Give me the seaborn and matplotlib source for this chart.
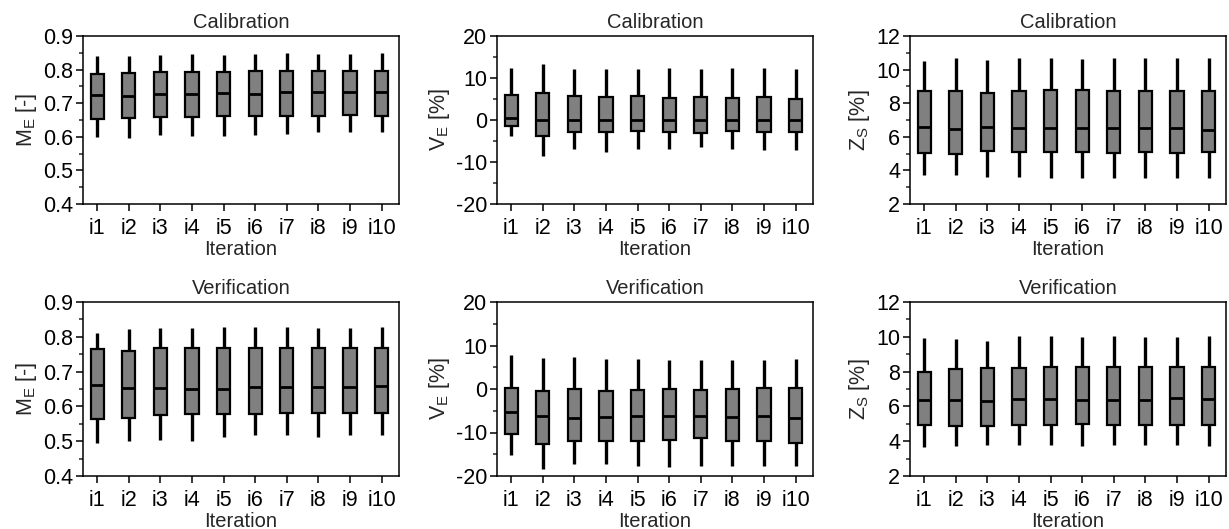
import numpy as np
import pandas as pd
import matplotlib
matplotlib.use("Agg")
import matplotlib.pyplot as plt
from matplotlib.ticker import MultipleLocator
import seaborn as sns

# ===== DATA (whisker low, q1, median, q3, whisker high) =====
iterations = ["i1", "i2", "i3", "i4", "i5", "i6", "i7", "i8", "i9", "i10"]

# Calibration M_E
cal_me_lo = [0.600, 0.597, 0.605, 0.603, 0.603, 0.605, 0.608, 0.613, 0.613, 0.615]
cal_me_q1 = [0.653, 0.655, 0.659, 0.659, 0.662, 0.662, 0.663, 0.662, 0.665, 0.662]
cal_me_md = [0.725, 0.722, 0.727, 0.727, 0.730, 0.728, 0.732, 0.732, 0.732, 0.732]
cal_me_q3 = [0.787, 0.790, 0.793, 0.793, 0.793, 0.795, 0.797, 0.797, 0.795, 0.797]
cal_me_hi = [0.840, 0.840, 0.843, 0.845, 0.843, 0.847, 0.848, 0.845, 0.847, 0.850]

# Calibration V_E
cal_ve_lo = [-3.9, -8.5, -6.9, -7.5, -6.8, -6.8, -6.4, -6.8, -7.2, -7.1]
cal_ve_q1 = [-1.5, -3.7, -2.9, -2.8, -2.7, -2.9, -3.0, -2.7, -2.9, -2.8]
cal_ve_md = [0.5, 0.1, 0.0, 0.0, 0.0, 0.0, 0.0, 0.0, -0.1, 0.0]
cal_ve_q3 = [5.9, 6.5, 5.8, 5.5, 5.6, 5.2, 5.4, 5.3, 5.5, 5.1]
cal_ve_hi = [12.5, 13.3, 12.1, 12.2, 12.2, 12.4, 12.2, 12.5, 12.5, 12.2]

# Calibration Z_S
cal_zs_lo = [3.72, 3.72, 3.62, 3.62, 3.56, 3.56, 3.56, 3.56, 3.56, 3.56]
cal_zs_q1 = [5.06, 4.96, 5.16, 5.10, 5.10, 5.10, 5.06, 5.10, 5.06, 5.10]
cal_zs_md = [6.56, 6.46, 6.58, 6.52, 6.52, 6.52, 6.52, 6.52, 6.54, 6.38]
cal_zs_q3 = [8.71, 8.73, 8.60, 8.75, 8.79, 8.80, 8.75, 8.75, 8.75, 8.71]
cal_zs_hi = [10.52, 10.72, 10.56, 10.68, 10.72, 10.66, 10.72, 10.68, 10.68, 10.68]

# Verification M_E
ver_me_lo = [0.494, 0.501, 0.504, 0.501, 0.511, 0.518, 0.519, 0.511, 0.518, 0.518]
ver_me_q1 = [0.565, 0.568, 0.575, 0.577, 0.578, 0.577, 0.580, 0.580, 0.580, 0.580]
ver_me_md = [0.662, 0.652, 0.652, 0.651, 0.651, 0.657, 0.657, 0.657, 0.657, 0.659]
ver_me_q3 = [0.764, 0.759, 0.767, 0.769, 0.769, 0.769, 0.769, 0.769, 0.769, 0.767]
ver_me_hi = [0.811, 0.821, 0.826, 0.826, 0.828, 0.828, 0.829, 0.826, 0.826, 0.828]

# Verification V_E
ver_ve_lo = [-15.2, -18.4, -17.3, -17.3, -17.7, -17.9, -17.7, -17.7, -17.7, -17.7]
ver_ve_q1 = [-10.3, -12.7, -12.0, -12.0, -12.0, -11.7, -11.3, -12.0, -12.0, -12.3]
ver_ve_md = [-5.3, -6.3, -6.7, -6.5, -6.3, -6.3, -6.3, -6.5, -6.3, -6.7]
ver_ve_q3 = [0.15, -0.4, -0.1, -0.4, -0.3, -0.1, -0.2, 0.0, 0.2, 0.15]
ver_ve_hi = [7.8, 7.1, 7.3, 6.9, 7.0, 6.7, 6.6, 6.7, 6.6, 6.9]

# Verification Z_S
ver_zs_lo = [3.65, 3.71, 3.77, 3.77, 3.77, 3.71, 3.77, 3.77, 3.77, 3.71]
ver_zs_q1 = [4.93, 4.89, 4.89, 4.95, 4.95, 4.99, 4.95, 4.95, 4.95, 4.95]
ver_zs_md = [6.36, 6.36, 6.32, 6.40, 6.40, 6.36, 6.36, 6.36, 6.46, 6.40]
ver_zs_q3 = [7.97, 8.13, 8.23, 8.23, 8.27, 8.27, 8.27, 8.29, 8.29, 8.27]
ver_zs_hi = [9.94, 9.86, 9.76, 10.04, 10.04, 9.96, 10.06, 9.96, 9.96, 10.04]

# ===== STYLE =====
sns.set_style("ticks")
plt.rcParams['font.family'] = ['Liberation Sans', 'DejaVu Sans']
plt.rcParams['mathtext.default'] = 'regular'
plt.rcParams['axes.unicode_minus'] = False


def to_long(lo, q1, md, q3, hi):
    # five points per box -> linear quartiles land exactly on q1/median/q3
    rows = []
    for it, a, b, c, d, e in zip(iterations, lo, q1, md, q3, hi):
        for v in (a, b, c, d, e):
            rows.append({"Iteration": it, "value": v})
    return pd.DataFrame(rows)


panels = [
    ("Calibration", "M$_E$ [-]", (cal_me_lo, cal_me_q1, cal_me_md, cal_me_q3, cal_me_hi), (0.4, 0.9), 0.1, 0.05),
    ("Calibration", "V$_E$ [%]", (cal_ve_lo, cal_ve_q1, cal_ve_md, cal_ve_q3, cal_ve_hi), (-20, 20), 10, 5),
    ("Calibration", "Z$_S$ [%]", (cal_zs_lo, cal_zs_q1, cal_zs_md, cal_zs_q3, cal_zs_hi), (2, 12), 2, 1),
    ("Verification", "M$_E$ [-]", (ver_me_lo, ver_me_q1, ver_me_md, ver_me_q3, ver_me_hi), (0.4, 0.9), 0.1, 0.05),
    ("Verification", "V$_E$ [%]", (ver_ve_lo, ver_ve_q1, ver_ve_md, ver_ve_q3, ver_ve_hi), (-20, 20), 10, 5),
    ("Verification", "Z$_S$ [%]", (ver_zs_lo, ver_zs_q1, ver_zs_md, ver_zs_q3, ver_zs_hi), (2, 12), 2, 1),
]

fig = plt.figure(figsize=(12.29, 5.29), dpi=100)
lefts = [83 / 1229, 497 / 1229, 910 / 1229]
width = 316 / 1229
rows = [(1 - 204 / 529, 168 / 529), (1 - 476 / 529, 174 / 529)]

for i, (title, ylab, stats, ylim, major, minor) in enumerate(panels):
    bottom, height = rows[i // 3]
    ax = fig.add_axes([lefts[i % 3], bottom, width, height])
    data = to_long(*stats)
    sns.boxplot(data=data, x="Iteration", y="value", order=iterations, ax=ax,
                whis=np.inf, width=0.42, color="#808080", saturation=1,
                linecolor="black", linewidth=1.5,
                boxprops=dict(facecolor="#808080", edgecolor="black", linewidth=1.6),
                whiskerprops=dict(color="black", linewidth=2.4),
                capprops=dict(linewidth=0),
                medianprops=dict(color="black", linewidth=2))
    ax.set_xlim(-0.45, 9.55)
    ax.set_ylim(*ylim)
    ax.yaxis.set_major_locator(MultipleLocator(major))
    ax.yaxis.set_minor_locator(MultipleLocator(minor))
    ax.tick_params(axis="both", which="major", direction="out", length=5, width=1.1,
                   labelsize=15.5, pad=2, colors="black")
    ax.tick_params(axis="x", which="major", pad=5)
    ax.tick_params(axis="y", which="minor", direction="out", length=3, width=1.1)
    for s in ax.spines.values():
        s.set_linewidth(1.1)
        s.set_color("black")
        s.set_visible(True)
    ax.set_title(title, fontsize=14.5, pad=6)
    ax.set_xlabel("Iteration", fontsize=14.5, labelpad=1)
    ax.set_ylabel(ylab, fontsize=15.5, labelpad=3)

plt.savefig("out.png", dpi=100)
plt.close()
